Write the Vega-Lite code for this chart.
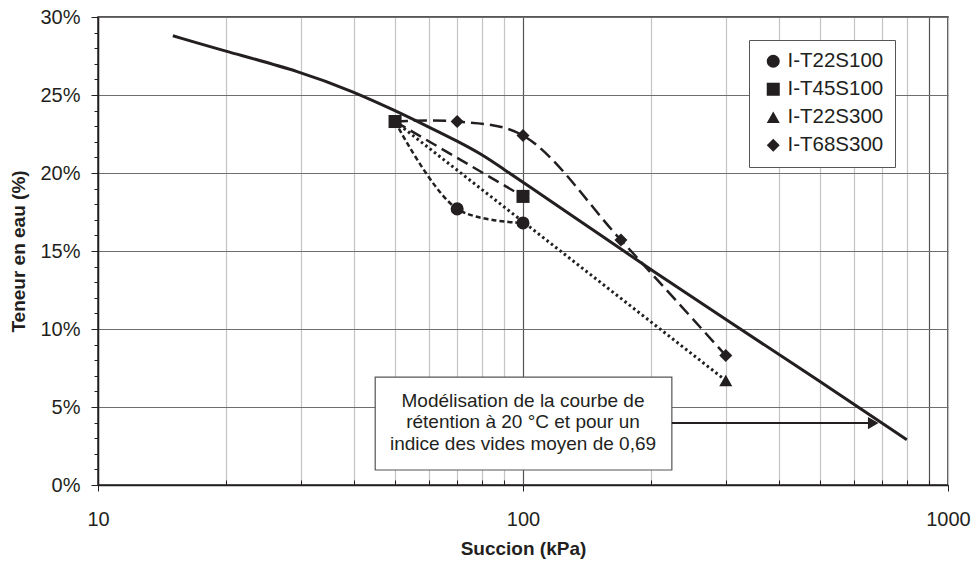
{
  "$schema": "https://vega.github.io/schema/vega-lite/v6.json",
  "width": 850,
  "height": 468,
  "autosize": {"type": "none"},
  "padding": {"left": 98, "top": 17, "right": 25, "bottom": 80},
  "background": "white",
  "config": {
    "view": {"stroke": "#231f20", "strokeWidth": 1.5},
    "font": "Liberation Sans"
  },
  "datasets": {
    "model": [
      {"succion": 15, "teneur": 28.8},
      {"succion": 20, "teneur": 27.8},
      {"succion": 30, "teneur": 26.5},
      {"succion": 40, "teneur": 25.2},
      {"succion": 50, "teneur": 24.0},
      {"succion": 60, "teneur": 22.95},
      {"succion": 70, "teneur": 22.05},
      {"succion": 80, "teneur": 21.2},
      {"succion": 90, "teneur": 20.25},
      {"succion": 100, "teneur": 19.4},
      {"succion": 150, "teneur": 16.15},
      {"succion": 200, "teneur": 13.8},
      {"succion": 300, "teneur": 10.6},
      {"succion": 500, "teneur": 6.65},
      {"succion": 800, "teneur": 2.9}
    ],
    "series": [
      {"serie": "I-T22S100", "succion": 50, "teneur": 23.3},
      {"serie": "I-T22S100", "succion": 70, "teneur": 17.7},
      {"serie": "I-T22S100", "succion": 100, "teneur": 16.8},
      {"serie": "I-T22S300", "succion": 50, "teneur": 23.3},
      {"serie": "I-T22S300", "succion": 300, "teneur": 6.7},
      {"serie": "I-T68S300", "succion": 50, "teneur": 23.3},
      {"serie": "I-T68S300", "succion": 70, "teneur": 23.3},
      {"serie": "I-T68S300", "succion": 100, "teneur": 22.4},
      {"serie": "I-T68S300", "succion": 170, "teneur": 15.7},
      {"serie": "I-T68S300", "succion": 300, "teneur": 8.3},
      {"serie": "I-T45S100", "succion": 50, "teneur": 23.3},
      {"serie": "I-T45S100", "succion": 100, "teneur": 18.5}
    ],
    "box": [
      {"x1": 44.9, "x2": 224, "y1": 6.92, "y2": 0.96}
    ],
    "arrow": [
      {"x1": 224, "x2": 670, "y": 3.97}
    ],
    "head": [
      {"x": 667, "y": 3.97}
    ],
    "note": [
      {"x": 100, "y": 5.02, "texte": "Modélisation de la courbe de"},
      {"x": 100, "y": 3.63, "texte": "rétention à 20 °C et  pour un"},
      {"x": 100, "y": 2.24, "texte": "indice des vides moyen de 0,69"}
    ]
  },
  "layer": [
    {
      "data": {"name": "model"},
      "mark": {"type": "line", "interpolate": "basis", "color": "#231f20", "strokeWidth": 3},
      "encoding": {
        "x": {
          "field": "succion",
          "type": "quantitative",
          "scale": {"type": "log", "domain": [10, 1000], "nice": false},
          "axis": {
            "title": "Succion (kPa)",
            "values": [10, 20, 30, 40, 50, 60, 70, 80, 90, 100, 200, 300, 400, 500, 600, 700, 800, 900, 1000],
            "tickCount": 19,
            "labelExpr": "(datum.value == 10 || datum.value == 100 || datum.value == 1000) ? format(datum.value, 'd') : ''",
            "grid": true,
            "gridColor": {"condition": {"test": "datum.value == 100 || datum.value == 900", "value": "#555555"}, "value": "#c4c4c4"},
            "gridWidth": 1.2,
            "tickSize": {"condition": {"test": "datum.value == 10 || datum.value == 100 || datum.value == 1000", "value": 6}, "value": -5},
            "tickColor": "#231f20",
            "domainColor": "#231f20",
            "domainWidth": 1.5,
            "labelFont": "Liberation Sans",
            "labelFontSize": 20,
            "labelColor": "#231f20",
            "labelPadding": 18,
            "labelFlush": false,
            "labelOverlap": false,
            "titleFont": "Liberation Sans",
            "titleFontSize": 19,
            "titleFontWeight": "bold",
            "titleColor": "#231f20",
            "titlePadding": 10
          }
        },
        "y": {
          "field": "teneur",
          "type": "quantitative",
          "scale": {"domain": [0, 30], "nice": false},
          "axis": {
            "title": "Teneur en eau (%)",
            "values": [0, 1, 2, 3, 4, 5, 6, 7, 8, 9, 10, 11, 12, 13, 14, 15, 16, 17, 18, 19, 20, 21, 22, 23, 24, 25, 26, 27, 28, 29, 30],
            "tickCount": 31,
            "labelExpr": "indexof([0, 5, 10, 15, 20, 25, 30], datum.value) >= 0 ? datum.value + '%' : ''",
            "grid": true,
            "gridColor": "#6e6e6e",
            "gridWidth": 1.2,
            "gridOpacity": {"condition": {"test": "indexof([0, 5, 10, 15, 20, 25, 30], datum.value) >= 0", "value": 1}, "value": 0},
            "tickSize": {"condition": {"test": "indexof([0, 5, 10, 15, 20, 25, 30], datum.value) >= 0", "value": 7}, "value": 4},
            "tickColor": "#231f20",
            "domainColor": "#231f20",
            "domainWidth": 1.5,
            "labelFont": "Liberation Sans",
            "labelFontSize": 20,
            "labelColor": "#231f20",
            "labelPadding": 11,
            "labelOverlap": false,
            "labelFlush": false,
            "titleFont": "Liberation Sans",
            "titleFontSize": 19,
            "titleFontWeight": "bold",
            "titleColor": "#231f20",
            "titlePadding": 11
          }
        }
      }
    },
    {
      "data": {"name": "series"},
      "transform": [{"filter": "datum.serie == 'I-T22S100'"}],
      "mark": {"type": "line", "interpolate": "catmull-rom", "color": "#231f20", "strokeWidth": 2.5, "strokeDash": [5, 3]},
      "encoding": {
        "x": {"field": "succion", "type": "quantitative"},
        "y": {"field": "teneur", "type": "quantitative"}
      }
    },
    {
      "data": {"name": "series"},
      "transform": [{"filter": "datum.serie == 'I-T45S100'"}],
      "mark": {"type": "line", "interpolate": "catmull-rom", "color": "#231f20", "strokeWidth": 2.5, "strokeDash": [12, 6]},
      "encoding": {
        "x": {"field": "succion", "type": "quantitative"},
        "y": {"field": "teneur", "type": "quantitative"}
      }
    },
    {
      "data": {"name": "series"},
      "transform": [{"filter": "datum.serie == 'I-T22S300'"}],
      "mark": {"type": "line", "interpolate": "catmull-rom", "color": "#231f20", "strokeWidth": 3, "strokeDash": [2.5, 3]},
      "encoding": {
        "x": {"field": "succion", "type": "quantitative"},
        "y": {"field": "teneur", "type": "quantitative"}
      }
    },
    {
      "data": {"name": "series"},
      "transform": [{"filter": "datum.serie == 'I-T68S300'"}],
      "mark": {"type": "line", "interpolate": "catmull-rom", "color": "#231f20", "strokeWidth": 2.5, "strokeDash": [13, 6]},
      "encoding": {
        "x": {"field": "succion", "type": "quantitative"},
        "y": {"field": "teneur", "type": "quantitative"}
      }
    },
    {
      "data": {"name": "series"},
      "transform": [{"filter": "datum.serie == 'I-T45S100' || datum.succion != 50"}],
      "mark": {"type": "point", "filled": true, "color": "#231f20", "opacity": 1, "size": 170},
      "encoding": {
        "x": {"field": "succion", "type": "quantitative"},
        "y": {"field": "teneur", "type": "quantitative"},
        "shape": {
          "field": "serie",
          "type": "nominal",
          "scale": {
            "domain": ["I-T22S100", "I-T45S100", "I-T22S300", "I-T68S300"],
            "range": ["circle", "square", "triangle-up", "diamond"]
          },
          "legend": {
            "title": null,
            "orient": "none",
            "legendX": 651,
            "legendY": 23,
            "strokeColor": "#555555",
            "fillColor": "white",
            "padding": 11,
            "labelFont": "Liberation Sans",
            "labelFontSize": 20.5,
            "labelColor": "#231f20",
            "symbolSize": 170,
            "symbolFillColor": "#231f20",
            "symbolStrokeWidth": 0,
            "rowPadding": 7,
            "labelOffset": 4,
            "symbolOffset": 3
          }
        }
      }
    },
    {
      "data": {"name": "box"},
      "mark": {"type": "rect", "fill": "white", "stroke": "#555555", "strokeWidth": 1.2},
      "encoding": {
        "x": {"field": "x1", "type": "quantitative"},
        "x2": {"field": "x2"},
        "y": {"field": "y1", "type": "quantitative"},
        "y2": {"field": "y2"}
      }
    },
    {
      "data": {"name": "arrow"},
      "mark": {"type": "rule", "color": "#231f20", "strokeWidth": 2},
      "encoding": {
        "x": {"field": "x1", "type": "quantitative"},
        "x2": {"field": "x2"},
        "y": {"field": "y", "type": "quantitative"}
      }
    },
    {
      "data": {"name": "head"},
      "mark": {"type": "point", "shape": "triangle-right", "filled": true, "color": "#231f20", "opacity": 1, "size": 150},
      "encoding": {
        "x": {"field": "x", "type": "quantitative"},
        "y": {"field": "y", "type": "quantitative"}
      }
    },
    {
      "data": {"name": "note"},
      "mark": {"type": "text", "font": "Liberation Sans", "fontSize": 19, "color": "#231f20", "align": "center", "baseline": "alphabetic"},
      "encoding": {
        "x": {"field": "x", "type": "quantitative"},
        "y": {"field": "y", "type": "quantitative"},
        "text": {"field": "texte"}
      }
    }
  ]
}
